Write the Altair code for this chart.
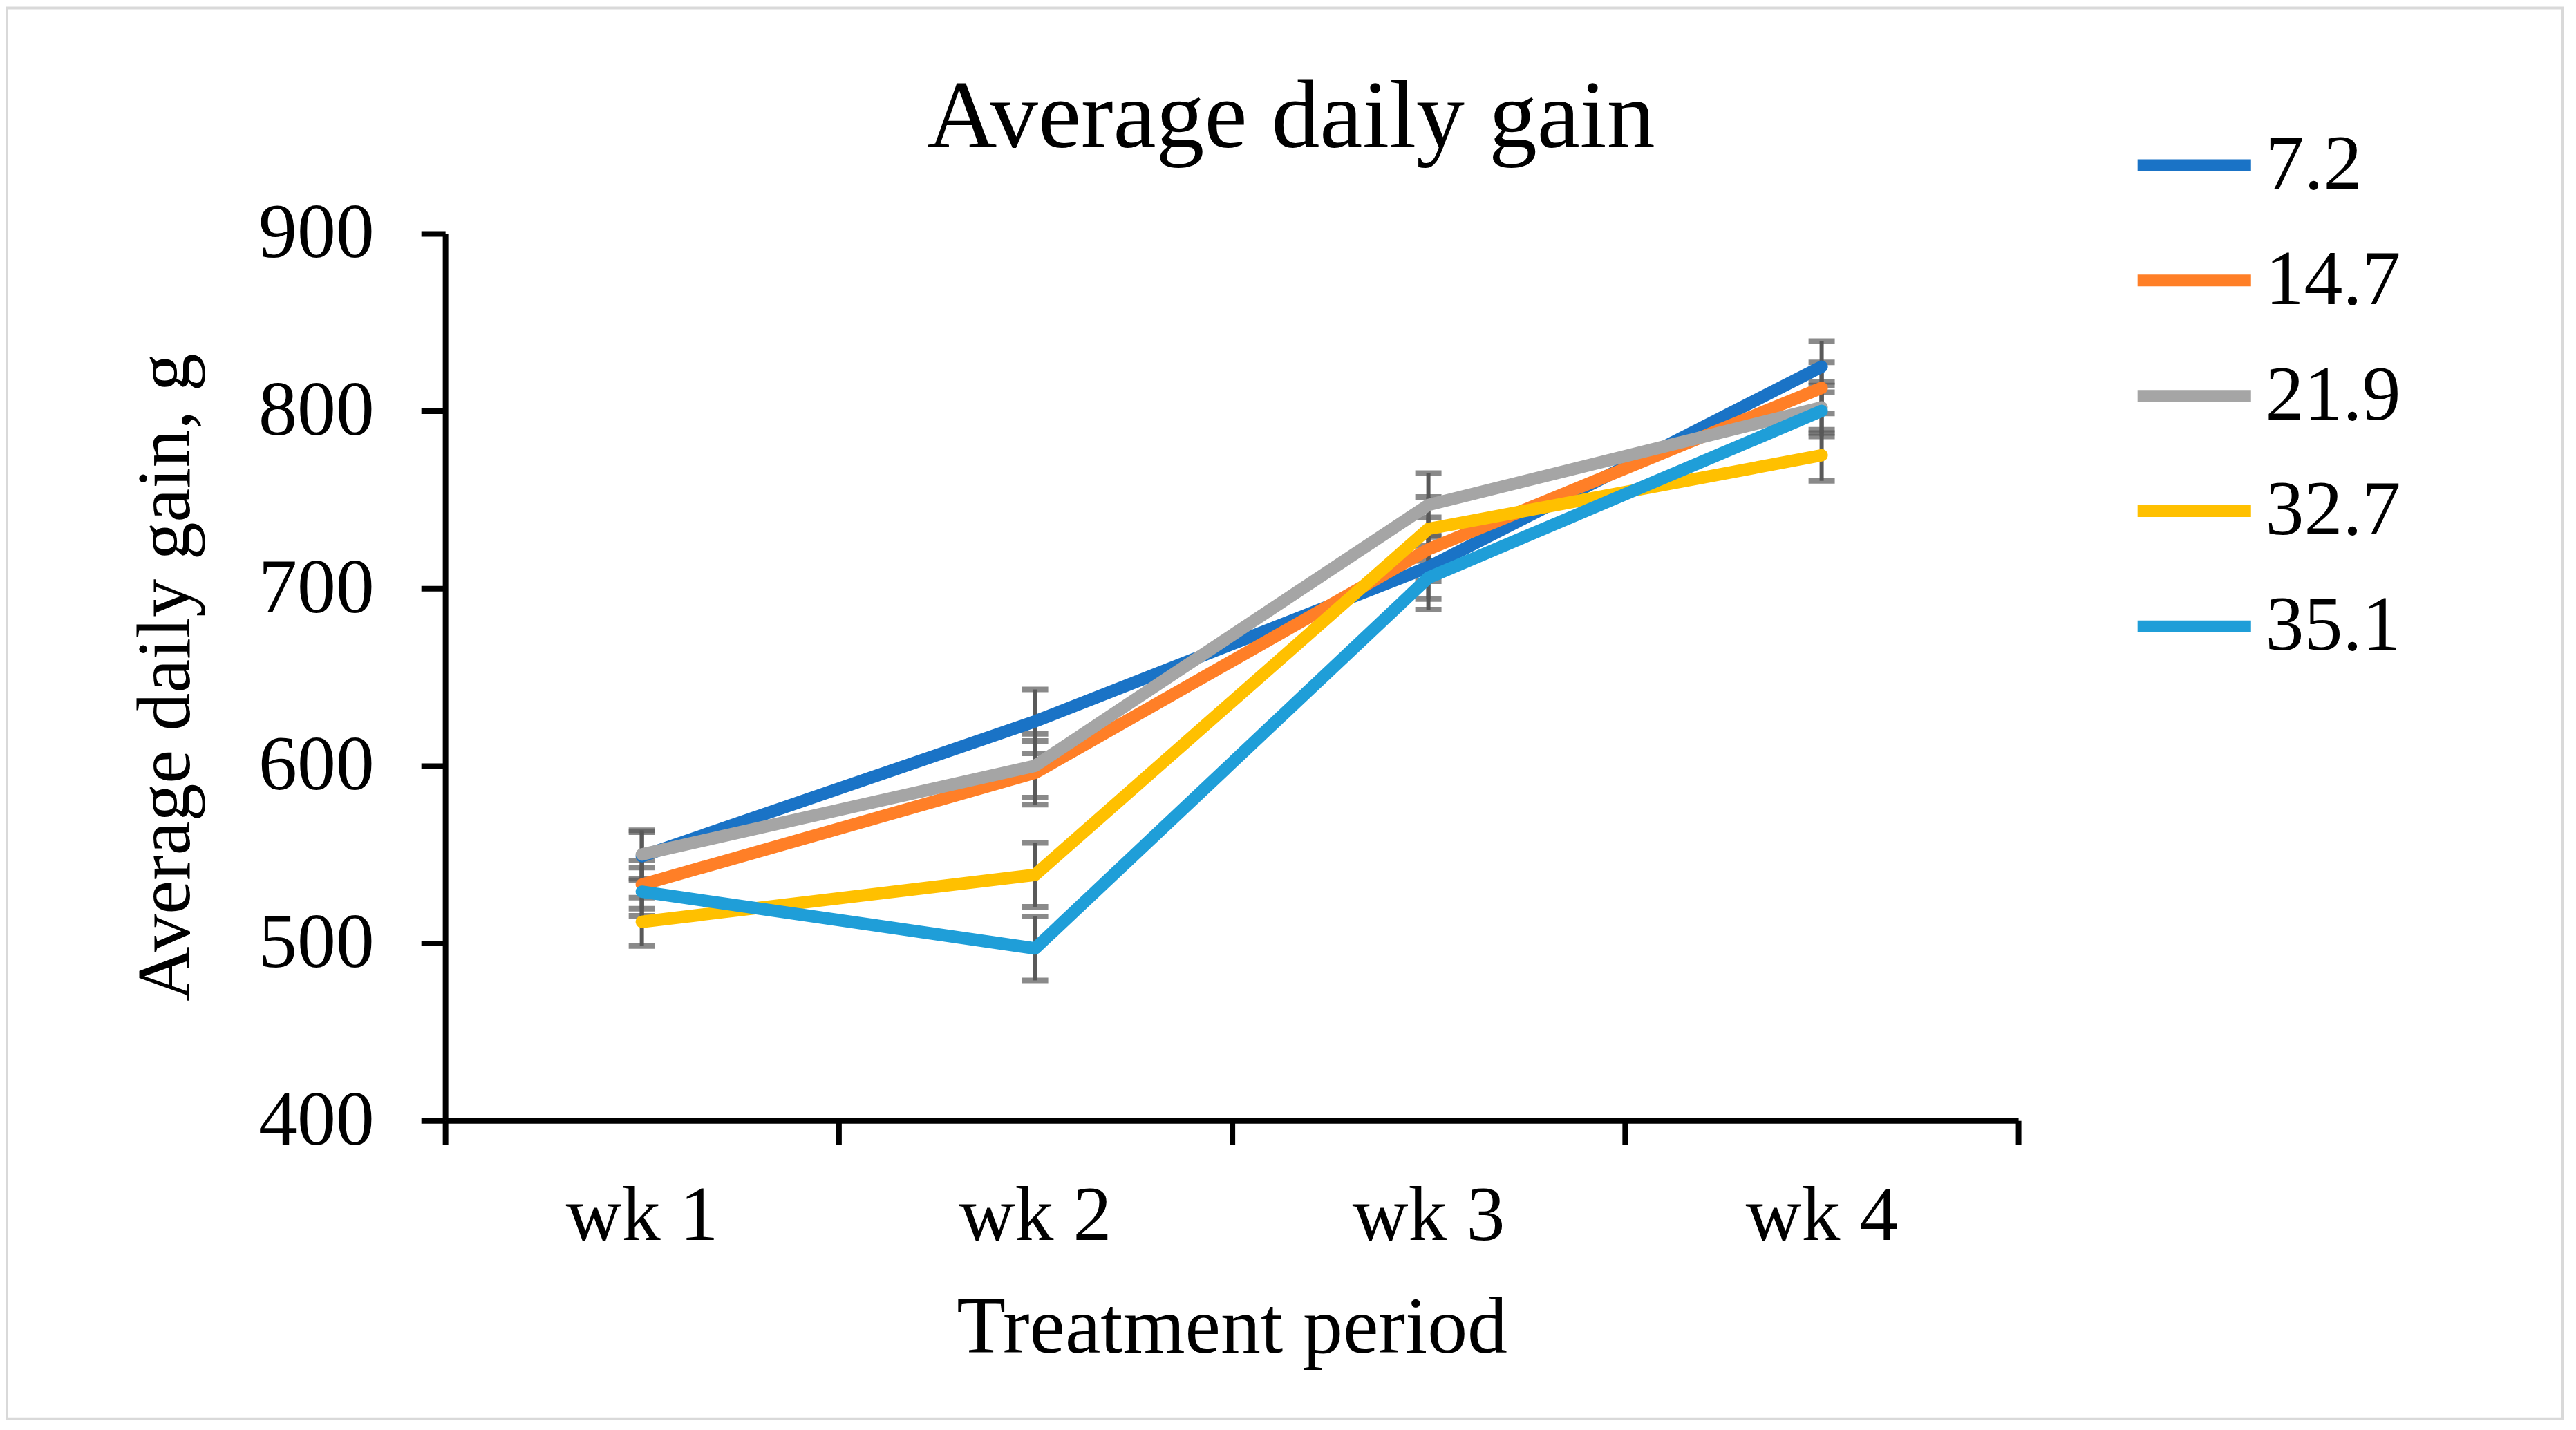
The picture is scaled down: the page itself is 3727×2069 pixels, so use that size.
import altair as alt
import pandas as pd

weeks = ["wk 1", "wk 2", "wk 3", "wk 4"]
series = ["7.2", "14.7", "21.9", "32.7", "35.1"]
colors = ["#1A73C6", "#FF7F27", "#A5A5A5", "#FFC000", "#1F9ED8"]
gain_7_2 = [549, 625, 712, 825]
gain_14_7 = [533, 596, 722, 813]
gain_21_9 = [550, 600, 747, 802]
gain_32_7 = [512, 538.5, 733.5, 775]
gain_35_1 = [529, 497, 706, 800]
sem = [13.6, 18, 18, 14.4]
title_text = "Average daily gain"

values = [gain_7_2, gain_14_7, gain_21_9, gain_32_7, gain_35_1]
rows = []
for s, vals in zip(series, values):
    for w, v, e in zip(weeks, vals, sem):
        rows.append({"series": s, "week": w, "gain": v, "lo": v - e, "hi": v + e})
df = pd.DataFrame(rows)

FONT = "Liberation Serif"
W, H = 2279, 1285

x_enc = alt.X(
    "week:N", sort=weeks,
    scale=alt.Scale(type="band", paddingInner=0, paddingOuter=0),
    axis=alt.Axis(
        title="Treatment period", tickBand="extent", grid=False,
        domainColor="black", domainWidth=8, tickColor="black", tickWidth=8,
        tickSize=35, labelFont=FONT, labelFontSize=112, labelColor="black",
        labelPadding=138, labelBaseline="alphabetic", labelAngle=0, labelLimit=0,
        titleFont=FONT, titleFontSize=116, titleFontWeight="normal",
        titleColor="black", titleBaseline="alphabetic", titleY=336, titleX=W / 2,
    ),
)
y_scale = alt.Scale(domain=[400, 900], nice=False, zero=False)
y_enc = alt.Y(
    "gain:Q", scale=y_scale,
    axis=alt.Axis(
        title="Average daily gain, g", values=[400, 500, 600, 700, 800, 900],
        grid=False, domainColor="black", domainWidth=8, tickColor="black",
        tickWidth=8, tickSize=35, labelFont=FONT, labelFontSize=112,
        labelColor="black", labelPadding=68, labelLimit=0,
        titleFont=FONT, titleFontSize=110, titleFontWeight="normal",
        titleColor="black", titleAngle=270, titleBaseline="alphabetic",
        titleX=-371, titleY=H / 2,
    ),
)

color_enc = alt.Color(
    "series:N",
    scale=alt.Scale(domain=series, range=colors),
    legend=alt.Legend(
        title=None, orient="none", legendX=2443, legendY=-190,
        symbolType="stroke", symbolSize=27000, symbolStrokeWidth=17,
        labelFont=FONT, labelFontSize=112, labelColor="black", labelLimit=0,
        labelOffset=12, rowPadding=20, padding=0, labelBaseline="middle",
    ),
)

frame = alt.Chart(pd.DataFrame({"a": [0]})).mark_rect(
    fill=None, stroke="#D9D9D9", strokeWidth=4
).encode(
    x=alt.value(-635), x2=alt.value(3068), y=alt.value(-327), y2=alt.value(1717)
)

title = alt.Chart(pd.DataFrame({"t": [title_text]})).mark_text(
    font=FONT, fontSize=140, color="black", baseline="alphabetic", align="center"
).encode(text="t:N", x=alt.value(W / 2 + 86), y=alt.value(-125))

base = alt.Chart(df)
err_rule = base.mark_rule(color="#595959", strokeWidth=6).encode(
    x=x_enc, y=alt.Y("lo:Q", scale=y_scale), y2="hi:Q"
)
cap_lo = base.mark_tick(color="#595959", size=38, thickness=8).encode(
    x=x_enc, y=alt.Y("lo:Q", scale=y_scale)
)
cap_hi = base.mark_tick(color="#595959", size=38, thickness=8).encode(
    x=x_enc, y=alt.Y("hi:Q", scale=y_scale)
)
lines = base.mark_line(strokeWidth=18, strokeCap="round", strokeJoin="round").encode(
    x=x_enc, y=y_enc, color=color_enc, detail="series:N"
)

chart = alt.layer(frame, title, err_rule, cap_lo, cap_hi, lines).properties(
    width=W, height=H,
    background="white",
    autosize=alt.AutoSizeParams(type="none"),
    padding={"left": 637, "top": 329, "right": 800, "bottom": 445},
).configure_view(stroke=None)

chart.save("out.html", embed_options={"renderer": "svg", "actions": False})
